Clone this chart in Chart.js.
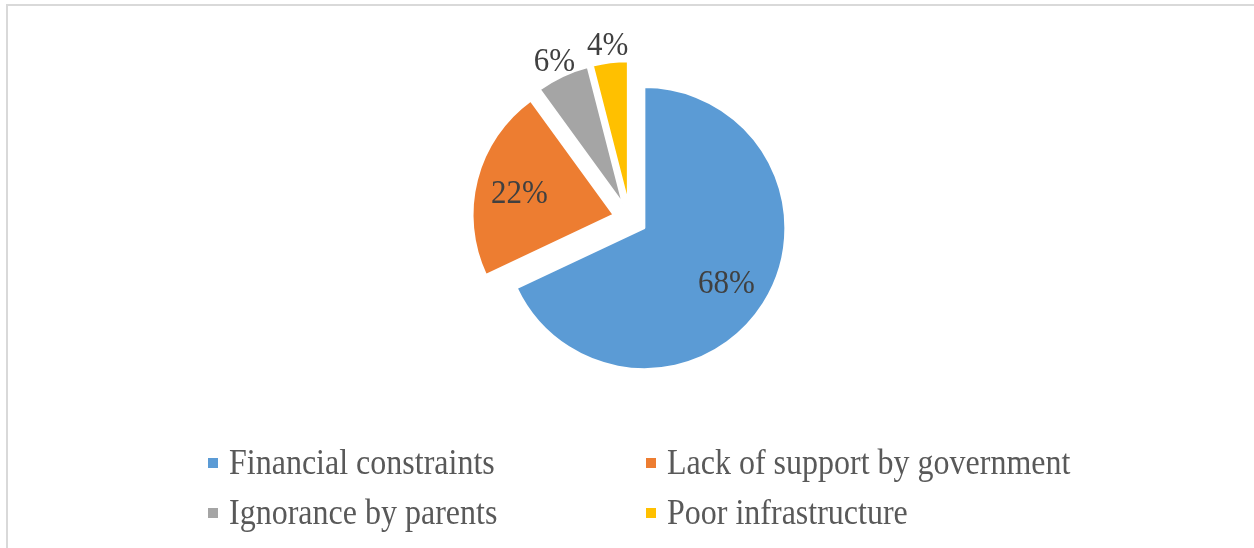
<!DOCTYPE html>
<html>
<head>
<meta charset="utf-8">
<script src="https://cdn.jsdelivr.net/npm/chart.js@4.4.1/dist/chart.umd.min.js"></script>
<style>
    html, body {
        margin: 0;
        padding: 0;
        background: #ffffff;
    }
    #wrap {
        position: relative;
        width: 1254px;
        height: 548px;
        overflow: hidden;
    }
    #frame {
        position: absolute;
        left: 6px;
        top: 4px;
        right: -4px;
        bottom: -4px;
        border-top: 2px solid #d9d9d9;
        border-left: 2px solid #d9d9d9;
    }
    #pieChart {
        position: absolute;
        left: 0;
        top: 0;
    }
    #legend {
        position: absolute;
        left: 208px;
        top: 437px;
        display: grid;
        grid-template-columns: 438px auto;
        grid-auto-rows: 50px;
        font-family: "Liberation Serif", "Times New Roman", serif;
        font-size: 32px;
        color: #595959;
    }
    .legend-item {
        display: flex;
        align-items: center;
        white-space: nowrap;
    }
    .legend-box {
        width: 10px;
        height: 10px;
        margin-right: 11px;
        margin-top: 2px;
    }
    .legend-text {
        display: inline-block;
        transform: scaleY(1.1);
    }
</style>
</head>
<body>
<div id="wrap">
    <div id="frame"></div>
    <canvas id="pieChart" width="1254" height="548"></canvas>
    <div id="legend"></div>
</div>
<script>
    // Reasons given, share of responses (%)
    const reasons = ['Financial constraints', 'Lack of support by government', 'Ignorance by parents', 'Poor infrastructure'];
    const shares = [68, 22, 6, 4];
    const sliceColors = ['#5b9bd5', '#ed7d31', '#a5a5a5', '#ffc000'];

    // How far every slice is pulled out from the centre, in px
    const EXPLODE = 17;

    function midAngle(arc) {
        return (arc.startAngle + arc.endAngle) / 2;
    }

    // Draws each slice shifted out along its bisector
    const explodedSlices = {
        id: 'explodedSlices',
        beforeDatasetDraw(chart, args) {
            const ctx = chart.ctx;
            args.meta.data.forEach(arc => {
                const mid = midAngle(arc);
                ctx.save();
                ctx.translate(Math.cos(mid) * EXPLODE, Math.sin(mid) * EXPLODE);
                arc.draw(ctx);
                ctx.restore();
            });
            return false;
        }
    };

    // Percentage labels: inside the big slices, just outside the small ones
    const sliceLabels = {
        id: 'sliceLabels',
        afterDatasetsDraw(chart) {
            const ctx = chart.ctx;
            const meta = chart.getDatasetMeta(0);
            const total = shares.reduce((a, b) => a + b, 0);
            ctx.save();
            ctx.font = '31px "Liberation Serif", "Times New Roman", serif';
            ctx.fillStyle = '#404040';
            ctx.textAlign = 'center';
            ctx.textBaseline = 'middle';
            meta.data.forEach((arc, i) => {
                const mid = midAngle(arc);
                const small = shares[i] / total < 0.1;
                const dist = EXPLODE + arc.outerRadius * (small ? 1.14 : 0.69);
                const x = arc.x + Math.cos(mid) * dist;
                const y = arc.y + Math.sin(mid) * dist + 4;
                // glyphs a touch taller than the stock face
                ctx.save();
                ctx.translate(x, y);
                ctx.scale(1, 1.06);
                ctx.fillText(shares[i] + '%', 0, 0);
                ctx.restore();
            });
            ctx.restore();
        }
    };

    new Chart(document.getElementById('pieChart'), {
        type: 'pie',
        data: {
            labels: reasons,
            datasets: [{
                data: shares,
                backgroundColor: sliceColors,
                borderColor: '#ffffff',
                borderWidth: 2,
                radius: 141
            }]
        },
        options: {
            responsive: false,
            animation: false,
            events: [],
            layout: {
                padding: { left: 6, right: 0, top: 18, bottom: 128 }
            },
            plugins: {
                legend: { display: false },
                tooltip: { enabled: false }
            }
        },
        plugins: [explodedSlices, sliceLabels]
    });

    // Two-column legend under the pie
    const legendEl = document.getElementById('legend');
    reasons.forEach((name, i) => {
        const item = document.createElement('div');
        item.className = 'legend-item';
        const box = document.createElement('span');
        box.className = 'legend-box';
        box.style.background = sliceColors[i];
        const text = document.createElement('span');
        text.className = 'legend-text';
        text.textContent = name;
        item.appendChild(box);
        item.appendChild(text);
        legendEl.appendChild(item);
    });
</script>
</body>
</html>
